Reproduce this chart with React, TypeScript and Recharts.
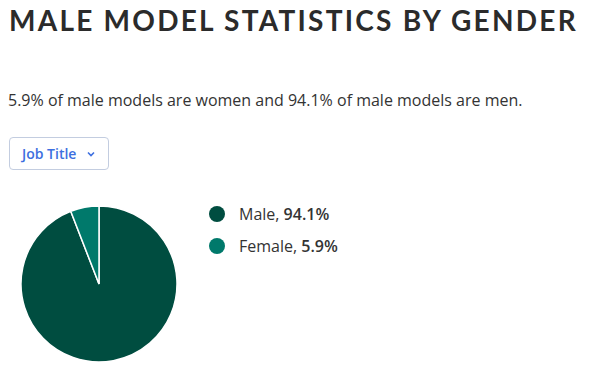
import React from "react";
import { PieChart, Pie, Cell } from "recharts";

const genders = ["Male", "Female"];
const shares = [94.1, 5.9];
const colors = ["#004d40", "#00796b"];

const data = genders.map((g, i) => ({ name: g, value: shares[i] }));

export default function App() {
  return (
    <div
      style={{
        position: "fixed",
        left: 0,
        top: 0,
        width: 589,
        height: 373,
        background: "#fff",
        overflow: "hidden",
      }}
    >
      <div
        style={{
          position: "absolute",
          left: 9,
          top: 3,
          fontFamily: "Lato, sans-serif",
          fontWeight: 700,
          fontSize: 28,
          letterSpacing: 2.25,
          color: "#2b2b2b",
          whiteSpace: "nowrap",
        }}
      >
        MALE MODEL STATISTICS BY GENDER
      </div>
      <div
        style={{
          position: "absolute",
          left: 8,
          top: 89,
          fontFamily: "'Open Sans', sans-serif",
          fontSize: 16,
          color: "#333",
          whiteSpace: "nowrap",
        }}
      >
        5.9% of male models are women and 94.1% of male models are men.
      </div>
      <div
        style={{
          position: "absolute",
          left: 9,
          top: 137,
          width: 98,
          height: 31,
          border: "1px solid #c3cde0",
          borderRadius: 4,
          boxSizing: "content-box",
          display: "flex",
          alignItems: "center",
          fontFamily: "'Open Sans', sans-serif",
          fontSize: 14,
          fontWeight: 600,
          color: "#3d6fe0",
        }}
      >
        <span style={{ marginLeft: 12 }}>Job Title</span>
        <svg width="10" height="8" style={{ marginLeft: 10 }} viewBox="0 0 10 8">
          <path d="M2 2.5 L5 5.5 L8 2.5" stroke="#3d6fe0" strokeWidth="1.6" fill="none" />
        </svg>
      </div>
      <div style={{ position: "absolute", left: 0, top: 190 }}>
        <PieChart width={200} height={183} margin={{ top: 0, right: 0, bottom: 0, left: 0 }}>
          <Pie
            data={data}
            dataKey="value"
            nameKey="name"
            cx={99}
            cy={94}
            outerRadius={78}
            startAngle={90}
            endAngle={-270}
            stroke="#fff"
            strokeWidth={1.5}
            isAnimationActive={false}
          >
            {data.map((d, i) => (
              <Cell key={d.name} fill={colors[i]} />
            ))}
          </Pie>
        </PieChart>
      </div>
      <div
        style={{
          position: "absolute",
          left: 209,
          top: 198,
          fontFamily: "'Open Sans', sans-serif",
          fontSize: 16,
          color: "#333",
        }}
      >
        {data.map((d, i) => (
          <div key={d.name} style={{ display: "flex", alignItems: "center", height: 32 }}>
            <span
              style={{
                display: "inline-block",
                width: 16,
                height: 16,
                borderRadius: "50%",
                background: colors[i],
                marginRight: 14,
              }}
            />
            <span>
              {d.name}, <span style={{ fontWeight: 600 }}>{d.value}%</span>
            </span>
          </div>
        ))}
      </div>
    </div>
  );
}
